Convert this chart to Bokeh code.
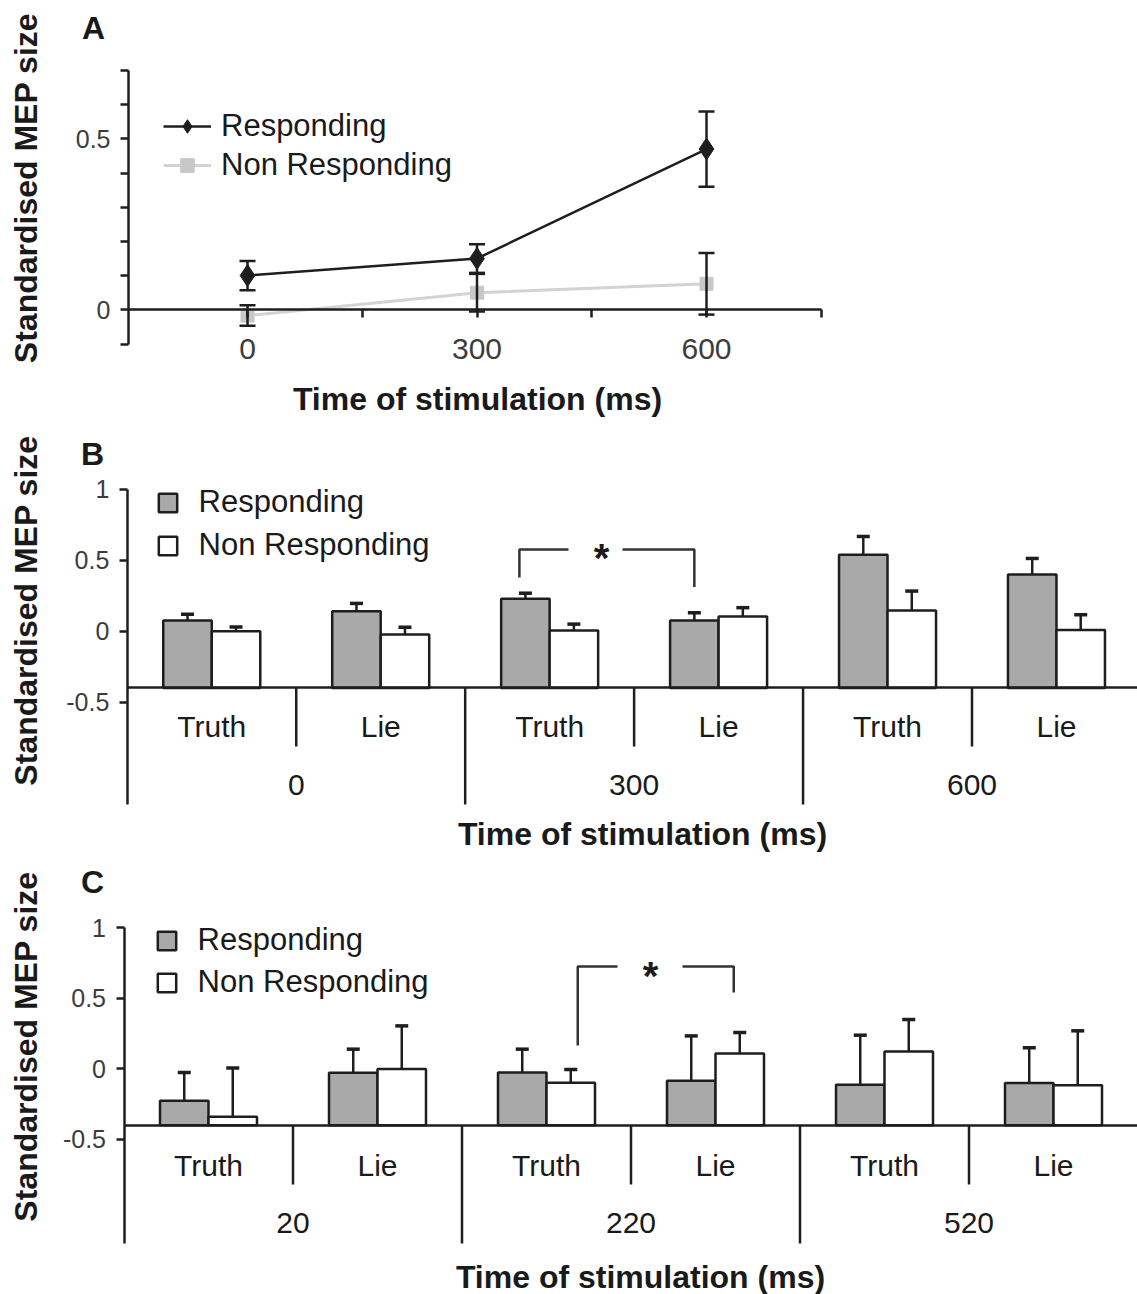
import numpy as np
from math import pi
from bokeh.plotting import figure
from bokeh.models import (Range1d, LinearAxis, FixedTicker, NumeralTickFormatter,
                          Whisker, TeeHead, ColumnDataSource, Legend, LegendItem)
from bokeh.layouts import column
from bokeh.core.properties import value
from bokeh.embed import file_html
from bokeh.resources import INLINE

# ---------------- data ----------------
# Panel A
stim_times_A = [0, 300, 600]
resp_A = [0.10, 0.15, 0.47]
resp_err_A = [0.043, 0.042, 0.11]
nonresp_A = [-0.017, 0.05, 0.076]
nonresp_err_A = [0.03, 0.055, 0.09]
xticks_A_major = [0, 300, 600]
xticks_A_minor = [150, 450, 750]
yticks_A_major = [0, 0.5]
yticks_A_minor = [-0.1, 0.1, 0.2, 0.3, 0.4, 0.6, 0.7]

# Panels B and C
conditions = ["Truth", "Lie"]
times_B = ["0", "300", "600"]
resp_B = [0.075, 0.14, 0.228, 0.075, 0.54, 0.40]
resp_err_B = [0.045, 0.056, 0.04, 0.055, 0.128, 0.113]
nonresp_B = [0.0, -0.024, 0.005, 0.104, 0.146, 0.009]
nonresp_err_B = [0.03, 0.052, 0.045, 0.062, 0.137, 0.107]

times_C = ["20", "220", "520"]
resp_C = [-0.226, -0.028, -0.026, -0.085, -0.113, -0.101]
resp_err_C = [0.2, 0.167, 0.165, 0.318, 0.351, 0.25]
nonresp_C = [-0.34, -0.002, -0.099, 0.108, 0.123, -0.116]
nonresp_err_C = [0.345, 0.306, 0.094, 0.149, 0.226, 0.385]
yticks_BC = [-0.5, 0, 0.5, 1]

series_labels = ["Responding", "Non Responding"]
y_title = "Standardised MEP size"
x_title = "Time of stimulation (ms)"

# ---------------- style ----------------
FONT_NAME = "Liberation Sans"
FONT = value(FONT_NAME)
INK = "#1e1e1e"
TXT = "#1a1a1a"
TICKTXT = "#3c3c3c"
GRAY = "#a9a9aa"
W = 1137
PAGE_L = 0
BASE = -0.4   # where the category axis crosses
TITLE_SIZE = 32


class Panel:
    """Maps reference page pixels to data units so that all frames fill the figure."""
    def __init__(self, top, height, x0, xs, y0, ys):
        self.top, self.h = top, height
        self.x0, self.xs, self.y0, self.ys = x0, xs, y0, ys
        p = figure(width=W, height=height,
                   x_range=Range1d(self.u(PAGE_L), self.u(PAGE_L + W)),
                   y_range=Range1d(self.v(top + height), self.v(top)),
                   x_axis_location=None, y_axis_location=None,
                   toolbar_location=None, output_backend="svg",
                   min_border=0, outline_line_color=None)
        p.grid.visible = False
        p.background_fill_color = "white"
        p.border_fill_color = "white"
        self.fig = p

    def u(self, px):
        return (px - self.x0) / self.xs

    def v(self, py):
        return (self.y0 - py) / self.ys

    def text(self, px, py, s, size, bold=False, angle=0.0, color=TXT):
        self.fig.text(x=[self.u(px)], y=[self.v(py)], text=[s], angle=angle,
                      text_font=FONT, text_font_size=f"{size}px",
                      text_font_style="bold" if bold else "normal",
                      text_color=color, text_align="center", text_baseline="middle")


def style_axis(ax, size, standoff):
    ax.axis_line_color = INK
    ax.axis_line_width = 2.5
    ax.major_tick_line_color = INK
    ax.minor_tick_line_color = INK
    ax.major_tick_line_width = 2.5
    ax.minor_tick_line_width = 2.5
    ax.major_tick_out = 8
    ax.major_tick_in = 0
    ax.minor_tick_out = 8
    ax.minor_tick_in = 0
    ax.major_label_text_font = FONT_NAME
    ax.major_label_text_font_size = f"{size}px"
    ax.major_label_text_color = TICKTXT
    ax.major_label_standoff = standoff


# ---------------- panel A ----------------
A = Panel(top=0, height=423, x0=247, xs=0.765, y0=309.3, ys=342)
pa = A.fig

nr_line = pa.line(stim_times_A, nonresp_A, line_color="#d3d3d3", line_width=3)
nr_sc = pa.scatter(stim_times_A, nonresp_A, marker="square", size=13,
                   fill_color="#c8c8c8", line_color="#c8c8c8")
r_line = pa.line(stim_times_A, resp_A, line_color=INK, line_width=2.5)
r_sc = pa.scatter(stim_times_A, resp_A, marker="diamond", size=22,
                  fill_color=INK, line_color=INK)

for vals, errs in ((nonresp_A, nonresp_err_A), (resp_A, resp_err_A)):
    vals, errs = np.array(vals), np.array(errs)
    src = ColumnDataSource(dict(x=stim_times_A, lo=vals - errs, hi=vals + errs))
    pa.add_layout(Whisker(source=src, base="x", lower="lo", upper="hi",
                          line_color=INK, line_width=2.5, level="annotation",
                          upper_head=TeeHead(size=16, line_color=INK, line_width=2.5),
                          lower_head=TeeHead(size=16, line_color=INK, line_width=2.5)))

all_y_A = yticks_A_major + yticks_A_minor
yax = LinearAxis(fixed_location=A.u(128), bounds=(min(all_y_A), max(all_y_A)),
                 ticker=FixedTicker(ticks=yticks_A_major, minor_ticks=yticks_A_minor),
                 formatter=NumeralTickFormatter(format="0.[0]"))
style_axis(yax, 25, 10)
pa.add_layout(yax, "left")

all_x_A = xticks_A_major + xticks_A_minor
xax = LinearAxis(fixed_location=0, bounds=(A.u(128), max(all_x_A)),
                 ticker=FixedTicker(ticks=xticks_A_major, minor_ticks=xticks_A_minor))
style_axis(xax, 30, 21)
pa.add_layout(xax, "below")

legA = Legend(items=[LegendItem(label=series_labels[0], renderers=[r_line, r_sc]),
                     LegendItem(label=series_labels[1], renderers=[nr_line, nr_sc])],
              location=(163, 240.5), glyph_width=48, glyph_height=34, label_height=34,
              spacing=3, label_standoff=10, padding=0, margin=0,
              border_line_color=None, background_fill_alpha=0,
              label_text_font=FONT_NAME, label_text_font_size="31px", label_text_color=TXT)
pa.add_layout(legA)

A.text(93, 27, "A", 32, bold=True)
A.text(25, 187.5, y_title, TITLE_SIZE, bold=True, angle=pi / 2)
A.text(477, 398, x_title, TITLE_SIZE, bold=True)


# ---------------- bar panels ----------------
def bar_panel(pn, groups, resp, resp_err, nonresp, nonresp_err, lay):
    p = pn.fig
    n = len(groups) * len(conditions)
    cats = conditions * len(groups)
    centers = np.arange(n) + 0.5
    bw = 48.5 / pn.xs
    xr, xn = centers - bw / 2, centers + bw / 2
    resp, resp_err = np.array(resp), np.array(resp_err)
    nonresp, nonresp_err = np.array(nonresp), np.array(nonresp_err)

    r = p.vbar(x=xr, width=bw, bottom=BASE, top=resp,
               fill_color=GRAY, line_color=INK, line_width=2.5)
    nr = p.vbar(x=xn, width=bw, bottom=BASE, top=nonresp,
                fill_color="white", line_color=INK, line_width=2.5)
    for xx, tops, errs in ((xr, resp, resp_err), (xn, nonresp, nonresp_err)):
        src = ColumnDataSource(dict(x=xx, lo=tops, hi=tops + errs))
        p.add_layout(Whisker(source=src, base="x", lower="lo", upper="hi",
                             line_color=INK, line_width=2.5, level="annotation",
                             lower_head=None,
                             upper_head=TeeHead(size=13, line_color=INK, line_width=3.5)))

    # axes
    yax = LinearAxis(fixed_location=0, bounds=(pn.v(lay["axis_bottom"]), max(yticks_BC)),
                     ticker=FixedTicker(ticks=yticks_BC),
                     formatter=NumeralTickFormatter(format="0.[0]"))
    style_axis(yax, 25, 10)
    p.add_layout(yax, "left")
    bax = LinearAxis(fixed_location=BASE, bounds=(0, n), ticker=FixedTicker(ticks=[]))
    style_axis(bax, 1, 0)
    p.add_layout(bax, "below")

    # category separators
    inner = [len(conditions) * g + 1 for g in range(len(groups))]
    outer = [len(conditions) * g for g in range(1, len(groups))]
    p.segment(x0=inner, y0=BASE, x1=inner, y1=pn.v(lay["inner_bottom"]),
              line_color=INK, line_width=2.5)
    p.segment(x0=outer, y0=BASE, x1=outer, y1=pn.v(lay["axis_bottom"]),
              line_color=INK, line_width=2.5)

    # category labels
    p.text(x=centers, y=[pn.v(lay["cat_y"])] * n, text=cats, text_font=FONT,
           text_font_size="30px", text_color=TXT, text_align="center", text_baseline="middle")
    p.text(x=inner, y=[pn.v(lay["grp_y"])] * len(groups), text=groups, text_font=FONT,
           text_font_size="30px", text_color=TXT, text_align="center", text_baseline="middle")

    # significance bracket
    b = lay["bracket"]
    xl = (xr if b["left"][1] == 0 else xn)[b["left"][0]] + pn.u(b["inset"][0]) - pn.u(0)
    xrgt = (xr if b["right"][1] == 0 else xn)[b["right"][0]] - pn.u(b["inset"][1]) + pn.u(0)
    ytop = pn.v(b["top"])
    p.multi_line(xs=[[xl, xl, pn.u(b["gap"][0])], [pn.u(b["gap"][1]), xrgt, xrgt]],
                 ys=[[pn.v(b["lb"]), ytop, ytop], [ytop, ytop, pn.v(b["rb"])]],
                 line_color="#333333", line_width=2.5)
    pn.text(b["star"][0], b["star"][1], "*", 40, bold=True)

    leg = Legend(items=[LegendItem(label=series_labels[0], renderers=[r]),
                        LegendItem(label=series_labels[1], renderers=[nr])],
                 location=lay["legend"], glyph_width=23, glyph_height=23, label_height=36,
                 spacing=lay["spacing"], label_standoff=20, padding=0, margin=0,
                 border_line_color=None, background_fill_alpha=0,
                 label_text_font=FONT_NAME, label_text_font_size="31px", label_text_color=TXT)
    p.add_layout(leg)

    pn.text(lay["letter"][0], lay["letter"][1], lay["letter"][2], 32, bold=True)
    pn.text(25, lay["ytitle"], y_title, TITLE_SIZE, bold=True, angle=pi / 2)
    pn.text(lay["xtitle"][0], lay["xtitle"][1], x_title, TITLE_SIZE, bold=True)
    return p


B = Panel(top=423, height=430, x0=126.8, xs=168.94, y0=630.7, ys=141.8)
bar_panel(B, times_B, resp_B, resp_err_B, nonresp_B, nonresp_err_B, dict(
    axis_bottom=804, inner_bottom=746, cat_y=726, grp_y=784,
    bracket=dict(left=(2, 0), right=(3, 0), inset=(-6, 0), top=549, lb=577, rb=586.5,
                 gap=(568, 622), star=(601, 557)),
    legend=(155.6, 290), spacing=7, letter=(92, 453, "B"), ytitle=610, xtitle=(642, 833)))

C = Panel(top=853, height=441, x0=123.5, xs=169.0, y0=1068.3, ys=141.2)
bar_panel(C, times_C, resp_C, resp_err_C, nonresp_C, nonresp_err_C, dict(
    axis_bottom=1243, inner_bottom=1184, cat_y=1165, grp_y=1222,
    bracket=dict(left=(2, 1), right=(3, 1), inset=(7, 6), top=966, lb=1045, rb=992,
                 gap=(617, 682), star=(650, 975)),
    legend=(154.6, 294), spacing=6, letter=(92, 881, "C"), ytitle=1046, xtitle=(640, 1276)))

layout = column(A.fig, B.fig, C.fig, spacing=0)
open("out.html", "w").write(file_html(layout, INLINE))
